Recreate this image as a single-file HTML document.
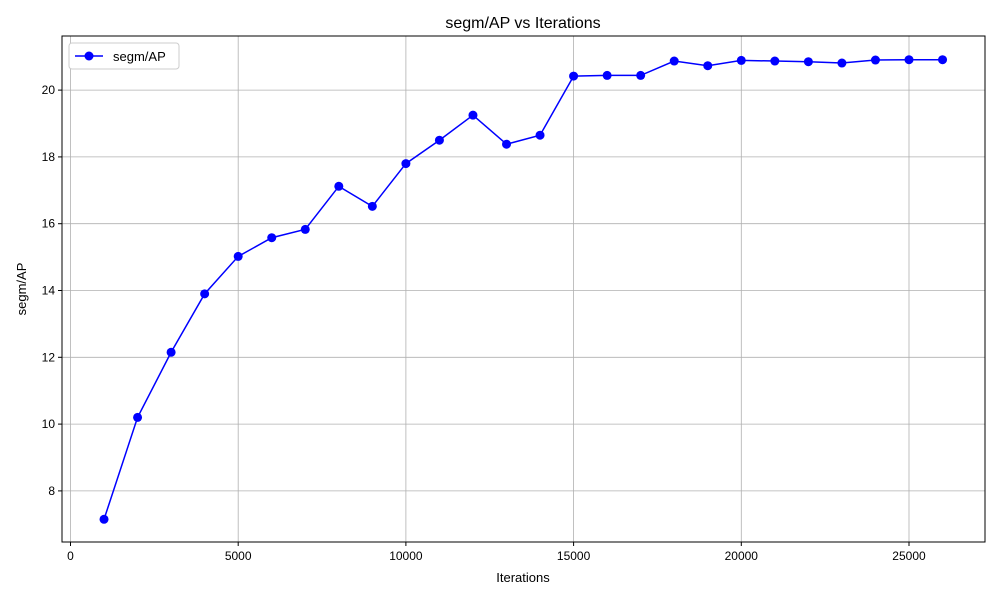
<!DOCTYPE html>
<html><head><meta charset="utf-8"><style>
html,body{margin:0;padding:0;background:#fff;}
svg text{font-family:"Liberation Sans",sans-serif;fill:#000;}
</style></head><body>
<svg id="chart" width="1000" height="600" xmlns="http://www.w3.org/2000/svg">
<rect width="1000" height="600" fill="#fff"/>
<text x="523" y="28" font-size="16" text-anchor="middle">segm/AP vs Iterations</text>
<g id="grid"></g>
<g id="series"></g>
<rect x="62" y="36" width="923" height="506" fill="none" stroke="#000" stroke-width="1"/>
<g id="axes"></g>
<text x="523" y="582" font-size="13" text-anchor="middle">Iterations</text>
<text x="26" y="289" font-size="13" text-anchor="middle" transform="rotate(-90 26 289)">segm/AP</text>
<g>
<rect x="69" y="43" width="110" height="26" fill="#fff" stroke="#ccc" rx="3"/>
<line x1="75" y1="56" x2="103" y2="56" stroke="#0000ff" stroke-width="1.5"/>
<circle cx="89" cy="56" r="4.5" fill="#0000ff"/>
<text x="113" y="61" font-size="13">segm/AP</text>
</g>
</svg>
<script>
const iterations=[1000,2000,3000,4000,5000,6000,7000,8000,9000,10000,11000,12000,13000,14000,15000,16000,17000,18000,19000,20000,21000,22000,23000,24000,25000,26000];
const apValues=[7.15,10.2,12.15,13.9,15.02,15.58,15.83,17.12,16.52,17.8,18.5,19.25,18.38,18.65,20.42,20.44,20.44,20.87,20.73,20.89,20.87,20.85,20.81,20.9,20.91,20.91];
const xTicks=[0,5000,10000,15000,20000,25000];
const yTicks=[8,10,12,14,16,18,20];
const NS="http://www.w3.org/2000/svg";
const L=62,R=985,T=36,B=542;
const xMin=-253,xMax=27266,yMin=6.47,yMax=21.62;
const xs=v=>L+(v-xMin)/(xMax-xMin)*(R-L);
const ys=v=>B-(v-yMin)/(yMax-yMin)*(B-T);
function mk(tag,attrs,parent){const e=document.createElementNS(NS,tag);for(const k in attrs)e.setAttribute(k,attrs[k]);parent.appendChild(e);return e;}
const grid=document.getElementById('grid'),axes=document.getElementById('axes'),ser=document.getElementById('series');
xTicks.forEach(t=>{const x=xs(t);
const g=mk('line',{x1:x,x2:x,y1:T,y2:B,stroke:'#b0b0b0','stroke-width':0.8},grid);


mk('line',{x1:x,x2:x,y1:B,y2:B+4,stroke:'#000'},axes);
const tx=mk('text',{x:x,y:B+18,'font-size':12,'text-anchor':'middle'},axes);tx.textContent=t;

});
yTicks.forEach(t=>{const y=ys(t);
const g=mk('line',{x1:L,x2:R,y1:y,y2:y,stroke:'#b0b0b0','stroke-width':0.8},grid);


mk('line',{x1:L-4,x2:L,y1:y,y2:y,stroke:'#000'},axes);
const tx=mk('text',{x:L-7,y:y+4,'font-size':12,'text-anchor':'end'},axes);tx.textContent=t;

});
const pts=iterations.map((v,i)=>xs(v)+','+ys(apValues[i])).join(' ');
const pl=mk('polyline',{points:pts,fill:'none',stroke:'#0000ff','stroke-width':1.5},ser);


iterations.forEach((v,i)=>{const c=mk('circle',{cx:xs(v),cy:ys(apValues[i]),r:4.5,fill:'#0000ff'},ser);

});
</script>
</body></html>
